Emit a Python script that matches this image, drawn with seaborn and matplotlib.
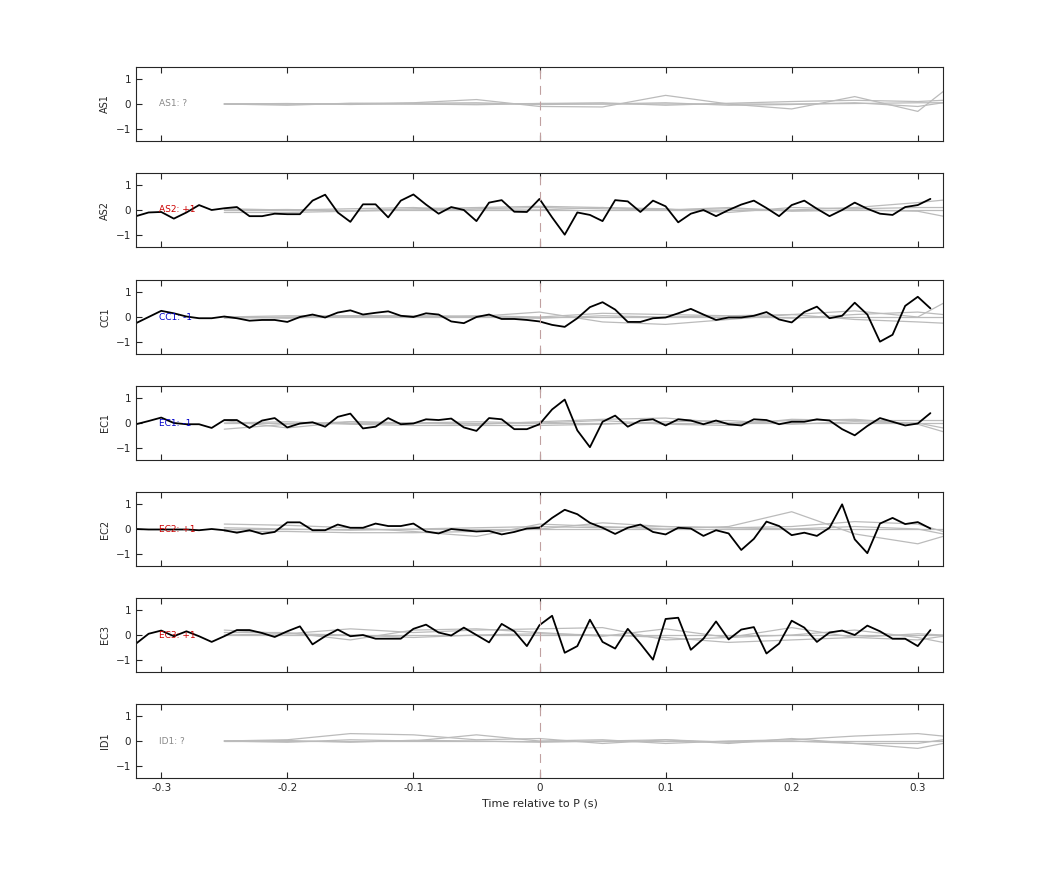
import numpy as np
import pandas as pd
import matplotlib
matplotlib.use("Agg")
import matplotlib.pyplot as plt
import seaborn as sns

sns.set_style("ticks")
plt.rcParams['font.family'] = ['DejaVu Sans']

channels = ["AS1", "AS2", "CC1", "EC1", "EC2", "EC3", "ID1"]
labels = ["AS1: ?", "AS2: +1", "CC1: -1", "EC1: -1", "EC2: +1", "EC3: +1", "ID1: ?"]
label_colors = ["#888888", "#cc0000", "#0000cc", "#0000cc", "#cc0000", "#cc0000", "#888888"]

# black traces, sampled every 10 ms from -0.32 to 0.31 s
t_black = np.round(np.arange(-0.32, 0.315, 0.01), 2)
as2 = [-0.25, -0.1, -0.08, -0.35, -0.1, 0.2, 0.0, 0.07, 0.12, -0.25, -0.25, -0.15, -0.17, -0.17,
       0.38, 0.62, -0.1, -0.48, 0.23, 0.23, -0.3, 0.38, 0.63, 0.22, -0.15, 0.12, 0.0, -0.45, 0.3,
       0.4, -0.07, -0.08, 0.45, -0.3, -1.0, -0.1, -0.2, -0.45, 0.4, 0.35, -0.08, 0.38, 0.15, -0.5,
       -0.15, 0.0, -0.25, 0.0, 0.22, 0.38, 0.08, -0.25, 0.2, 0.38, 0.05, -0.25, 0.0, 0.3, 0.05,
       -0.15, -0.2, 0.12, 0.2, 0.45]
cc1 = [-0.25, 0.0, 0.25, 0.15, 0.02, -0.05, -0.05, 0.02, -0.05, -0.15, -0.12, -0.12, -0.2, 0.0,
       0.1, -0.02, 0.18, 0.27, 0.1, 0.17, 0.23, 0.05, 0.0, 0.15, 0.1, -0.18, -0.25, 0.0, 0.1, -0.08,
       -0.08, -0.12, -0.18, -0.32, -0.4, -0.05, 0.4, 0.6, 0.3, -0.2, -0.2, -0.05, -0.02, 0.15, 0.33,
       0.1, -0.12, -0.02, -0.02, 0.05, 0.2, -0.1, -0.22, 0.2, 0.42, -0.05, 0.05, 0.58, 0.1, -1.0,
       -0.72, 0.45, 0.82, 0.35]
ec1 = [-0.05, 0.08, 0.22, 0.0, -0.05, -0.05, -0.2, 0.12, 0.12, -0.2, 0.1, 0.2, -0.18, -0.02, 0.03,
       -0.15, 0.25, 0.38, -0.22, -0.15, 0.2, -0.05, -0.02, 0.15, 0.12, 0.18, -0.18, -0.32, 0.2, 0.15,
       -0.25, -0.25, -0.05, 0.55, 0.95, -0.3, -0.98, 0.05, 0.3, -0.15, 0.1, 0.15, -0.1, 0.15, 0.1,
       -0.05, 0.1, -0.05, -0.1, 0.15, 0.12, -0.05, 0.05, 0.05, 0.15, 0.1, -0.25, -0.5, -0.12, 0.2,
       0.05, -0.1, -0.02, 0.4]
ec2 = [0.0, -0.02, -0.02, -0.02, -0.02, -0.05, 0.0, -0.05, -0.15, -0.05, -0.2, -0.12, 0.27, 0.27,
       -0.05, -0.05, 0.18, 0.05, 0.05, 0.22, 0.12, 0.12, 0.22, -0.1, -0.18, 0.0, -0.05, -0.1, -0.08,
       -0.22, -0.12, 0.02, 0.05, 0.45, 0.78, 0.6, 0.25, 0.05, -0.2, 0.05, 0.18, -0.12, -0.22, 0.05,
       0.02, -0.28, -0.05, -0.18, -0.85, -0.4, 0.3, 0.12, -0.25, -0.15, -0.28, 0.05, 1.0, -0.42,
       -0.98, 0.22, 0.45, 0.2, 0.28, 0.02]
ec3 = [-0.35, 0.05, 0.18, -0.05, 0.15, -0.05, -0.28, -0.05, 0.2, 0.2, 0.08, -0.08, 0.15, 0.35,
       -0.38, -0.05, 0.22, -0.05, 0.0, -0.15, -0.15, -0.15, 0.25, 0.42, 0.1, -0.02, 0.3, 0.0, -0.3,
       0.45, 0.15, -0.45, 0.4, 0.78, -0.72, -0.45, 0.62, -0.28, -0.55, 0.25, -0.35, -1.0, 0.65, 0.7,
       -0.6, -0.15, 0.55, -0.18, 0.22, 0.32, -0.75, -0.35, 0.58, 0.3, -0.28, 0.1, 0.18, 0.0, 0.38,
       0.15, -0.15, -0.15, -0.45, 0.2]
black = {"AS2": as2, "CC1": cc1, "EC1": ec1, "EC2": ec2, "EC3": ec3}

# grey traces, read every 50 ms from -0.25 s
t_grey = [-0.25, -0.2, -0.15, -0.1, -0.05, 0.0, 0.05, 0.1, 0.15, 0.2, 0.25, 0.3, 0.32]
grey = {
    "AS1": [[0, 0, 0.02, 0.05, 0.18, -0.1, -0.12, 0.35, 0.0, -0.2, 0.3, -0.3, 0.5],
            [0, -0.05, 0.03, 0, -0.03, 0.02, 0.05, -0.05, 0.03, 0.1, 0.15, 0.1, 0.15],
            [0, 0.02, -0.02, 0.03, 0.05, -0.02, 0.0, 0.05, -0.05, -0.02, 0.05, -0.1, 0.05],
            [0, 0, 0, 0, 0, 0.02, 0, 0, 0, 0, 0.02, 0.05, 0.05]],
    "AS2": [[-0.1, -0.1, -0.05, 0.0, 0.05, 0.1, 0.05, 0.0, 0.05, 0.0, 0.1, 0.3, 0.4],
            [0.05, 0.0, 0.05, 0.1, 0.0, 0.0, 0.1, 0.05, -0.1, 0.1, 0.05, 0.1, 0.1],
            [0, 0.02, -0.03, 0.05, 0.1, 0.15, 0.1, 0.0, 0.1, -0.05, 0.0, -0.05, -0.25],
            [0, 0, 0, 0, 0, 0, 0, 0, 0, 0, 0, 0, 0]],
    "CC1": [[0, 0.05, 0.05, 0.05, 0.02, 0.2, -0.2, -0.3, -0.1, 0.1, 0.25, 0.0, 0.55],
            [0, -0.05, 0.05, 0.0, 0.05, 0.0, 0.15, 0.1, 0.05, -0.05, 0.1, 0.2, 0.1],
            [-0.05, 0.0, 0.02, 0.05, 0.0, -0.05, 0.05, 0.0, 0.05, 0.1, -0.1, -0.2, -0.25],
            [0, 0, 0, 0, 0, 0, 0, 0, 0, 0, 0, 0, 0]],
    "EC1": [[-0.25, -0.05, 0.05, 0.0, -0.05, 0.05, 0.15, 0.2, 0.0, 0.1, 0.15, -0.05, -0.35],
            [0.1, -0.2, 0.05, 0.0, 0.05, 0.0, 0.1, -0.05, -0.1, 0.15, 0.1, 0.1, 0.1],
            [0.0, 0.05, -0.05, -0.1, -0.1, -0.1, -0.05, 0.05, 0.1, -0.05, 0.05, 0.0, -0.2],
            [0, 0, 0, 0, 0, 0, 0, 0, 0, 0, 0, 0, 0]],
    "EC2": [[0.2, 0.15, 0.05, -0.1, -0.3, 0.2, 0.1, 0.0, 0.1, 0.7, -0.2, -0.6, -0.3],
            [-0.1, -0.1, -0.15, -0.15, -0.1, 0.0, 0.25, 0.1, 0.05, 0.1, 0.3, 0.2, -0.1],
            [0.05, 0.0, -0.05, 0.0, 0.05, 0.1, 0.05, 0.1, 0.05, 0.0, 0.1, 0.0, -0.2],
            [0, 0, 0, 0, 0, 0, 0, 0, 0, 0, 0, 0, 0]],
    "EC3": [[0.2, 0.05, 0.25, 0.1, 0.2, 0.25, 0.3, -0.2, -0.1, 0.3, -0.1, -0.2, -0.05],
            [0.1, 0.1, -0.2, 0.2, 0.25, 0.1, -0.05, 0.25, -0.1, 0.0, 0.2, -0.1, -0.3],
            [0.0, 0.05, 0.0, -0.1, 0.0, 0.05, 0.0, -0.1, -0.3, -0.2, -0.1, 0.05, 0.0],
            [0, 0, 0, 0, 0, 0, 0, 0, 0, 0, 0, 0, 0]],
    "ID1": [[0, 0.05, 0.3, 0.25, 0.05, 0.1, -0.1, 0.05, -0.1, 0.1, -0.1, -0.3, -0.1],
            [0, -0.05, 0.05, 0.0, 0.25, 0.0, 0.05, -0.1, 0.0, 0.05, 0.2, 0.3, 0.2],
            [0, 0.02, -0.05, 0.03, 0.0, -0.05, 0.0, 0.05, -0.05, 0.0, -0.1, -0.1, 0.05],
            [0, 0, 0, 0, 0, 0, 0, 0, 0, 0, 0, 0, 0]],
}

fig = plt.figure(figsize=(10.42, 8.75), dpi=100)
W, H = 1042, 875
tops = [67, 173, 280, 386, 492, 598, 704]

for i, ch in enumerate(channels):
    ax = fig.add_axes([136 / W, 1 - (tops[i] + 74) / H, 807 / W, 74 / H])
    rows = []
    for j, g in enumerate(grey[ch]):
        for t, v in zip(t_grey, g):
            rows.append({"t": t, "v": v, "trace": j})
    gdf = pd.DataFrame(rows)
    sns.lineplot(data=gdf, x="t", y="v", units="trace", estimator=None, color="#bbbbbb",
                 linewidth=0.9, ax=ax)
    if ch in black:
        sns.lineplot(x=t_black, y=black[ch], color="black", linewidth=1.3, ax=ax)
    ax.axvline(0, color="#c0a0a0", linestyle=(0, (8, 6)), linewidth=0.8)
    ax.text(-0.302, 0, labels[i], color=label_colors[i], fontsize=6.5, va="center")
    ax.set_xlim(-0.32, 0.32)
    ax.set_ylim(-1.5, 1.5)
    ax.set_yticks([-1, 0, 1])
    ax.set_xticks([-0.3, -0.2, -0.1, 0, 0.1, 0.2, 0.3])
    ax.tick_params(direction="in", top=True, labelsize=7.5, length=4)
    ax.set_ylabel(ch, fontsize=7)
    ax.set_xlabel("")
    if i < len(channels) - 1:
        ax.set_xticklabels([])
    else:
        ax.set_xticklabels(["-0.3", "-0.2", "-0.1", "0", "0.1", "0.2", "0.3"])
        ax.set_xlabel("Time relative to P (s)", fontsize=8)
    for s in ax.spines.values():
        s.set_linewidth(0.8)

fig.savefig("out.png", dpi=100)
